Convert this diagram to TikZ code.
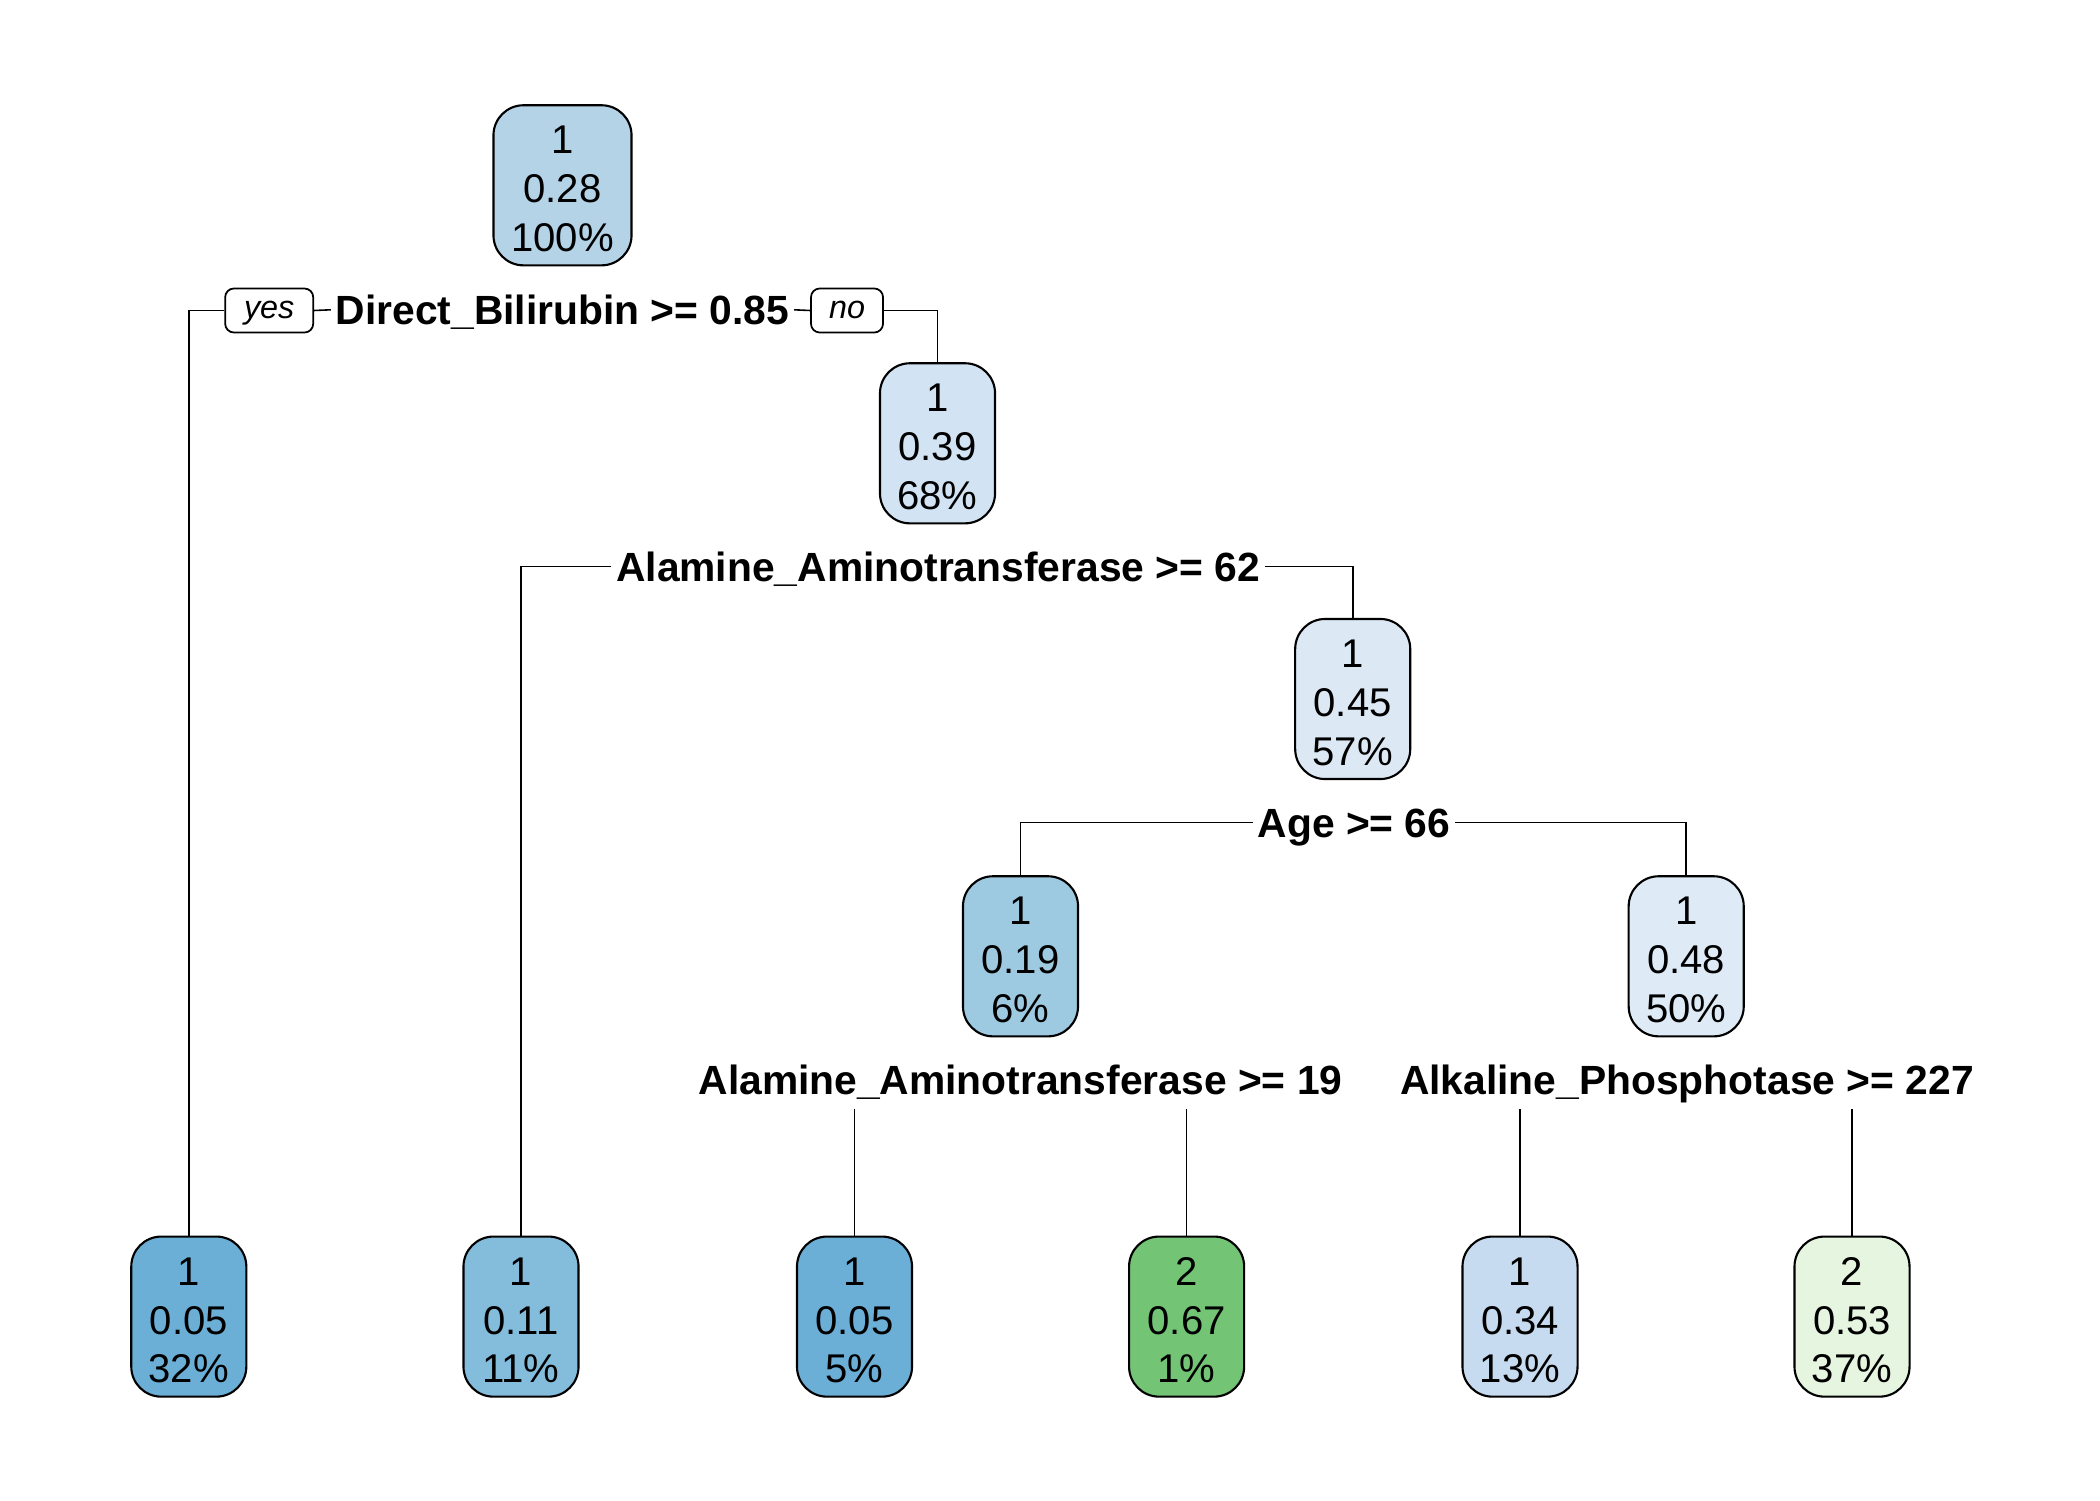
\documentclass[tikz,border=0pt]{standalone}
\usepackage{fontspec}
\setmainfont{Liberation Sans}
\definecolor{c28}{HTML}{B4D3E7}
\definecolor{c39}{HTML}{D2E3F3}
\definecolor{c45}{HTML}{DCE9F5}
\definecolor{c48}{HTML}{DEEBF7}
\definecolor{c34}{HTML}{C6DBEF}
\definecolor{c05}{HTML}{6BAED6}
\definecolor{c11}{HTML}{84BCDB}
\definecolor{c19}{HTML}{9DCAE1}
\definecolor{c67}{HTML}{74C476}
\definecolor{c53}{HTML}{E5F5E0}
\newcommand\tlines[3]{\rule{0pt}{10pt}#1\\#2\\#3}
\begin{document}
\begin{tikzpicture}[x=0.01cm,y=-0.01cm,
  tnode/.style={draw=black, line width=0.6pt, rounded corners=0.3cm,
    minimum width=1.15cm, minimum height=1.6cm, align=center,
    font=\fontsize{11.4}{13.9}\selectfont, inner sep=0pt},
  splitlab/.style={font=\bfseries\fontsize{11.6}{14}\selectfont, fill=white,
    inner sep=1.2pt, text height=8.4pt, text depth=0pt},
  yn/.style={draw=black, rounded corners=2.5pt, font=\itshape\fontsize{9.2}{11}\selectfont,
    minimum height=0.44cm, inner sep=0pt, line width=0.5pt, fill=white,
    text height=4.7pt, text depth=0pt},
  conn/.style={line width=0.45pt}]
\useasboundingbox (0,0) rectangle (2100,1500);

% inner nodes
\node[tnode, fill=c28, minimum width=1.38cm] (root) at (562.5,185.3) {\tlines{1}{0.28}{100\%}};
\node[tnode, fill=c39] (n39) at (937.5,443.3) {\tlines{1}{0.39}{68\%}};
\node[tnode, fill=c45] (n45) at (1352.7,699) {\tlines{1}{0.45}{57\%}};
\node[tnode, fill=c19] (n19) at (1020.5,956.3) {\tlines{1}{0.19}{6\%}};
\node[tnode, fill=c48] (n48) at (1686.2,956.3) {\tlines{1}{0.48}{50\%}};

% leaves
\node[tnode, fill=c05] (l1) at (188.8,1316.6) {\tlines{1}{0.05}{32\%}};
\node[tnode, fill=c11] (l2) at (521,1316.6) {\tlines{1}{0.11}{11\%}};
\node[tnode, fill=c05] (l3) at (854.5,1316.6) {\tlines{1}{0.05}{5\%}};
\node[tnode, fill=c67] (l4) at (1186.6,1316.6) {\tlines{2}{0.67}{1\%}};
\node[tnode, fill=c34] (l5) at (1520,1316.6) {\tlines{1}{0.34}{13\%}};
\node[tnode, fill=c53] (l6) at (1852,1316.6) {\tlines{2}{0.53}{37\%}};

% split labels
\node[splitlab] (s1) at (562.5,309.8) {Direct\_Bilirubin >= 0.85};
\node[yn, minimum width=0.88cm] (yes) at (269.2,310.5) {yes};
\node[yn, minimum width=0.72cm] (no) at (847,310.5) {no};
\node[splitlab] (s2) at (938.2,566.5) {Alamine\_Aminotransferase >= 62};
\node[splitlab] (s3) at (1354,822.3) {Age >= 66};
\node[splitlab] (s4) at (1020.5,1079.5) {Alamine\_Aminotransferase >= 19};
\node[splitlab] (s5) at (1686.9,1079.5) {Alkaline\_Phosphotase >= 227};

% stub ends below the last two labels
\coordinate (e3) at (854.5,1109);
\coordinate (e4) at (1186.6,1109);
\coordinate (e5) at (1520,1109);
\coordinate (e6) at (1852,1109);

% connectors
\draw[conn] (yes.west) -| (l1.north);
\draw[conn] (yes.east) -- (s1.west);
\draw[conn] (s1.east) -- (no.west);
\draw[conn] (no.east) -| (n39.north);
\draw[conn] (s2.west) -| (l2.north);
\draw[conn] (s2.east) -| (n45.north);
\draw[conn] (s3.west) -| (n19.north);
\draw[conn] (s3.east) -| (n48.north);
\draw[conn] (e3) -- (l3.north);
\draw[conn] (e4) -- (l4.north);
\draw[conn] (e5) -- (l5.north);
\draw[conn] (e6) -- (l6.north);
\end{tikzpicture}
\end{document}
